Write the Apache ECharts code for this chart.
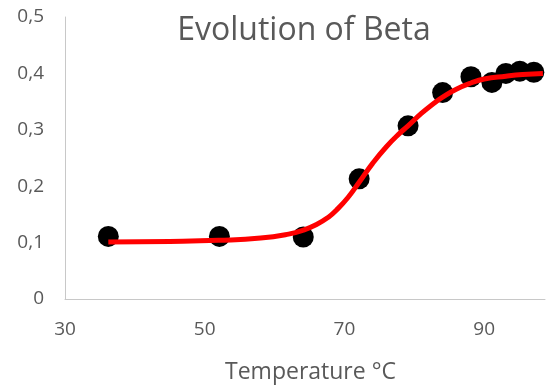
<!DOCTYPE html>
<html>
<head>
<meta charset="utf-8">
<script src="https://cdn.jsdelivr.net/npm/echarts@6/dist/echarts.min.js"></script>
<style>
html,body{margin:0;padding:0;background:#fff;}
#chart{width:548px;height:389px;}
</style>
</head>
<body>
<div id="chart"></div>
<script>
// Measured data points (Temperature °C, Beta)
const tempPoints = [36.2, 52.1, 64.1, 72.1, 79.1, 84.05, 88.1, 91.1, 93.1, 95.1, 97.1];
const betaPoints = [0.111, 0.111, 0.110, 0.213, 0.307, 0.366, 0.394, 0.384, 0.400, 0.404, 0.402];

// Fitted curve
const fitTemps = [36.2, 45, 52, 58, 62, 64.1, 66, 67.7, 68.8, 70.5, 72.1, 74, 76, 78, 79.1, 81, 82.9, 84.05, 86, 88.1, 90, 93.1, 95.5, 98.4];
const fitBeta  = [0.101, 0.102, 0.104, 0.108, 0.115, 0.122, 0.132, 0.145, 0.157, 0.180, 0.207, 0.240, 0.270, 0.295, 0.307, 0.329, 0.348, 0.358, 0.372, 0.383, 0.390, 0.395, 0.398, 0.400];

const titleText = 'Evolution of Beta';
const xName = 'Temperature °C';
const xTicks = [30, 50, 70, 90];

const chart = echarts.init(document.getElementById('chart'), null, {renderer: 'canvas'});
const txt = '#595959';
const font = 'Open Sans';

chart.setOption({
  animation: false,
  backgroundColor: '#ffffff',
  title: {
    text: titleText,
    left: 299,
    top: 10,
    textAlign: 'center',
    textStyle: {color: txt, fontFamily: font, fontWeight: 'normal', fontSize: 32}
  },
  grid: {left: 65, right: 0, top: 17, bottom: 86},
  xAxis: {
    type: 'value',
    min: 30, max: 98.7, interval: 20,
    name: xName,
    nameLocation: 'middle',
    nameGap: 62,
    nameTextStyle: {color: txt, fontFamily: font, fontSize: 23, padding: [0, 0, 0, 11]},
    splitLine: {show: false},
    axisTick: {show: false},
    axisLine: {show: true, lineStyle: {color: '#c8c8c8', width: 1}},
    axisLabel: {
      color: txt, fontFamily: font, fontSize: 19, margin: 21,
      formatter: v => xTicks.indexOf(v) >= 0 ? String(v) : ''
    }
  },
  yAxis: {
    type: 'value',
    min: 0, max: 0.5, interval: 0.1,
    splitLine: {show: false},
    axisTick: {show: false},
    axisLine: {show: true, lineStyle: {color: '#c8c8c8', width: 1}},
    axisLabel: {
      color: txt, fontFamily: font, fontSize: 19, margin: 21,
      formatter: v => (Math.round(v * 10) / 10).toString().replace('.', ',')
    }
  },
  series: [
    {
      type: 'scatter',
      data: tempPoints.map((t, i) => [t, betaPoints[i]]),
      symbol: 'circle',
      symbolSize: 21,
      itemStyle: {color: '#000000', opacity: 1},
      z: 2
    },
    {
      type: 'line',
      data: fitTemps.map((t, i) => [t, fitBeta[i]]),
      smooth: true,
      showSymbol: false,
      lineStyle: {color: '#ff0000', width: 5},
      z: 3
    }
  ]
});
</script>
</body>
</html>
